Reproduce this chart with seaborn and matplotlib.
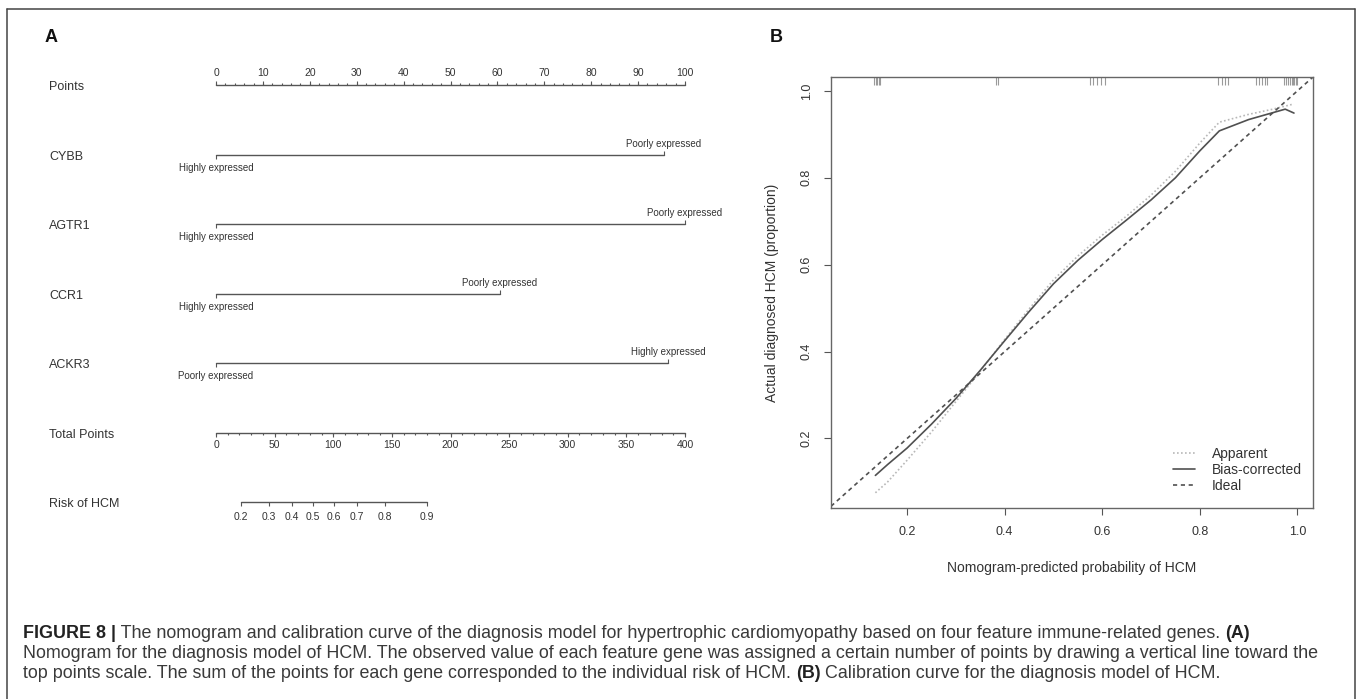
import numpy as np
import pandas as pd
import seaborn as sns
import matplotlib.pyplot as plt
from matplotlib.lines import Line2D

W, H = 1360, 699

# ---- panel A: nomogram
genes = ["CYBB", "AGTR1", "CCR1", "ACKR3"]
gene_points = [95.5, 100.0, 60.5, 96.4]
gene_low = ["Highly expressed", "Highly expressed", "Highly expressed", "Poorly expressed"]
gene_high = ["Poorly expressed", "Poorly expressed", "Poorly expressed", "Highly expressed"]
points_major = list(range(0, 101, 10))
total_major = list(range(0, 401, 50))
risk_ticks = [0.2, 0.3, 0.4, 0.5, 0.6, 0.7, 0.8, 0.9]
risk_at_half = 82.7    # total points where risk = 0.5
risk_per_logit = 44.1  # total points per logit unit

# ---- panel B: calibration curve
cal_x = [0.135, 0.16, 0.2, 0.25, 0.3, 0.35, 0.4, 0.45, 0.5, 0.55, 0.6,
         0.65, 0.7, 0.75, 0.8, 0.84, 0.9, 0.95, 0.975, 0.993]
apparent = [0.075, 0.10, 0.15, 0.215, 0.285, 0.355, 0.428, 0.498, 0.565, 0.62, 0.668,
            0.712, 0.76, 0.815, 0.88, 0.928, 0.946, 0.958, 0.965, 0.97]
bias_corrected = [0.115, 0.14, 0.178, 0.233, 0.292, 0.357, 0.425, 0.492, 0.556, 0.61, 0.658,
                  0.703, 0.749, 0.80, 0.862, 0.908, 0.934, 0.95, 0.958, 0.949]
rug = [0.133, 0.136, 0.139, 0.142, 0.145, 0.383, 0.387,
       0.574, 0.582, 0.590, 0.598, 0.605, 0.838, 0.845, 0.852, 0.857,
       0.916, 0.922, 0.928, 0.934, 0.938,
       0.972, 0.976, 0.980, 0.984, 0.988, 0.991, 0.994, 0.997, 0.999]

caption = [
    [("FIGURE 8 |", "bold"),
     (" The nomogram and calibration curve of the diagnosis model for hypertrophic cardiomyopathy "
      "based on four feature immune-related genes. ", "normal"),
     ("(A)", "bold")],
    [("Nomogram for the diagnosis model of HCM. The observed value of each feature gene was assigned "
      "a certain number of points by drawing a vertical line toward the", "normal")],
    [("top points scale. The sum of the points for each gene corresponded to the individual risk of HCM. ",
      "normal"),
     ("(B)", "bold"),
     (" Calibration curve for the diagnosis model of HCM.", "normal")],
]

sns.set_theme(style="white")
plt.rcParams["font.family"] = ["Liberation Sans", "DejaVu Sans"]

fig = plt.figure(figsize=(W / 100, H / 100), dpi=100)


def fig_box(x0, y0, x1, y1):
    return [x0 / W, 1 - y1 / H, (x1 - x0) / W, (y1 - y0) / H]


ink = "#333333"
line_c = "#555555"

# outer frame (open at the bottom)
for xs, ys in [([7, 7], [9, H]), ([7, 1355], [9, 9]), ([1355, 1355], [9, H])]:
    fig.add_artist(Line2D([x / W for x in xs], [1 - y / H for y in ys],
                          color="#444444", lw=1.1))

fig.text(45 / W, 1 - 38 / H, "A", fontsize=13, fontweight="bold", color="#111111", va="center")
fig.text(770 / W, 1 - 38 / H, "B", fontsize=13, fontweight="bold", color="#111111", va="center")

# ---------------- panel A
x0_px, x100_px = 216, 685
ppt = (x100_px - x0_px) / 100
axA = fig.add_axes(fig_box(20, 20, 720, 560))
axA.set_xlim((20 - x0_px) / ppt, (720 - x0_px) / ppt)
axA.set_ylim(560, 20)
axA.axis("off")

row_y = [85 + 69.5 * i for i in range(7)]
row_names = ["Points"] + genes + ["Total Points", "Risk of HCM"]
label_x = (49 - x0_px) / ppt
for y, name in zip(row_y, row_names):
    axA.text(label_x, y + 2, name, fontsize=9, color=ink, ha="left", va="center")

lw = 1.0
# Points scale
y = row_y[0]
axA.plot([0, 100], [y, y], color=line_c, lw=lw)
axA.vlines(np.arange(0, 101, 2), y - 2.5, y, color=line_c, lw=0.8)
axA.vlines(points_major, y - 4, y, color=line_c, lw=0.8)
for p in points_major:
    axA.text(p, y - 12, str(p), fontsize=7.5, color=ink, ha="center", va="center")

# gene rows
for y, v, lo, hi in zip(row_y[1:5], gene_points, gene_low, gene_high):
    axA.plot([0, v], [y, y], color=line_c, lw=lw)
    axA.vlines(0, y, y + 4, color=line_c, lw=0.8)
    axA.vlines(v, y - 4, y, color=line_c, lw=0.8)
    axA.text(0, y + 13, lo, fontsize=7, color=ink, ha="center", va="center")
    axA.text(v, y - 11, hi, fontsize=7, color=ink, ha="center", va="center")

# Total points scale
y = row_y[5]
tscale = 100 / 400
axA.plot([0, 100], [y, y], color=line_c, lw=lw)
axA.vlines(np.arange(0, 401, 10) * tscale, y, y + 2.5, color=line_c, lw=0.8)
axA.vlines(np.array(total_major) * tscale, y, y + 4, color=line_c, lw=0.8)
for t in total_major:
    axA.text(t * tscale, y + 13, str(t), fontsize=7.5, color=ink, ha="center", va="center")

# Risk scale
y = row_y[6]
rp = np.array(risk_ticks)
risk_pos = (risk_at_half + risk_per_logit * np.log(rp / (1 - rp))) * tscale
axA.plot([risk_pos[0], risk_pos[-1]], [y, y], color=line_c, lw=lw)
axA.vlines(risk_pos, y, y + 4, color=line_c, lw=0.8)
for p, xp in zip(risk_ticks, risk_pos):
    axA.text(xp, y + 15, f"{p:.1f}", fontsize=7.5, color=ink, ha="center", va="center")

# ---------------- panel B
axB = fig.add_axes(fig_box(831, 77, 1313, 508))
cal = pd.DataFrame({"x": cal_x, "Apparent": apparent, "Bias-corrected": bias_corrected})
sns.lineplot(data=cal, x="x", y="Apparent", ax=axB, color="#b8b8b8", lw=1.2,
             linestyle=(0, (1, 1.4)), label="Apparent")
sns.lineplot(data=cal, x="x", y="Bias-corrected", ax=axB, color="#505050", lw=1.2,
             label="Bias-corrected")
axB.axline((0, 0), slope=1, color="#505050", lw=1.2, linestyle=(0, (2.5, 2.2)), label="Ideal")
axB.vlines(rug, 1 - 8 / 431, 1, transform=axB.get_xaxis_transform(), color="#9a9a9a", lw=0.8)

axB.set_xlim(0.044, 1.032)
axB.set_ylim(0.040, 1.032)
ticks = [0.2, 0.4, 0.6, 0.8, 1.0]
axB.set_xticks(ticks)
axB.set_yticks(ticks)
axB.set_xticklabels([f"{t:.1f}" for t in ticks])
axB.set_yticklabels([f"{t:.1f}" for t in ticks], rotation=90, va="center")
axB.tick_params(axis="both", direction="out", length=5, width=0.8, color="#555555",
                labelsize=9, labelcolor=ink, bottom=True, left=True)
axB.tick_params(axis="x", pad=8)
axB.tick_params(axis="y", pad=8)
for s in axB.spines.values():
    s.set_color("#666666")
    s.set_linewidth(1.0)
axB.set_xlabel("Nomogram-predicted probability of HCM", fontsize=10, color=ink)
axB.set_ylabel("Actual diagnosed HCM (proportion)", fontsize=10, color=ink)
axB.xaxis.set_label_coords(0.5, (508 - 561) / 431)
axB.yaxis.set_label_coords((779 - 831) / 482, 0.5)
axB.legend(loc="lower left", bbox_to_anchor=(1173 / W, 1 - 493 / H), bbox_transform=fig.transFigure,
           frameon=False, fontsize=10, handlelength=1.6, handletextpad=1.2,
           labelspacing=0.15, borderpad=0, borderaxespad=0, labelcolor=ink)

# ---------------- caption
renderer = fig.canvas.get_renderer()
baselines = [638, 658, 678]
for segs, yb in zip(caption, baselines):
    x = 23
    for text, weight in segs:
        t = fig.text(x / W, 1 - yb / H, text, fontsize=12.9, fontweight=weight,
                     color="#222222" if weight == "bold" else "#3a3a3a",
                     ha="left", va="baseline")
        x += t.get_window_extent(renderer).width

fig.savefig("out.png", dpi=100)
